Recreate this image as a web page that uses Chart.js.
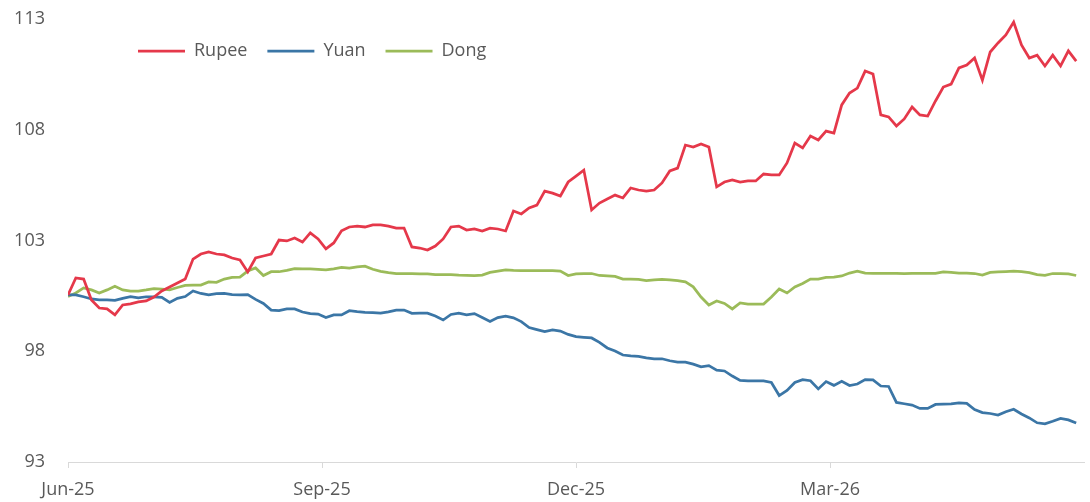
<!DOCTYPE html>
<html>
<head>
<meta charset="utf-8">
<script src="https://cdn.jsdelivr.net/npm/chart.js@4"></script>
<style>
    html, body { margin: 0; padding: 0; background: #ffffff; }
    .chart-box { width: 1090px; height: 502px; }
</style>
</head>
<body>
<div class="chart-box"><canvas id="myChart"></canvas></div>
<script>
// Currency indices, sampled every 2 trading days from the start of June 2025
const tradingDays = Array.from({ length: 130 }, (_, i) => i * 2);

const tickDays = [0, 65, 130, 195];
const tickLabels = ['Jun-25', 'Sep-25', 'Dec-25', 'Mar-26'];

const rupee = [100.54, 101.31, 101.26, 100.31, 99.95, 99.91, 99.64, 100.09, 100.14, 100.23,
    100.27, 100.45, 100.72, 100.90, 101.08, 101.26, 102.16, 102.39, 102.48, 102.39,
    102.35, 102.21, 102.12, 101.58, 102.21, 102.30, 102.39, 103.02, 102.98, 103.11,
    102.93, 103.34, 103.07, 102.62, 102.89, 103.44, 103.61, 103.65, 103.61, 103.70,
    103.70, 103.65, 103.56, 103.56, 102.71, 102.66, 102.57, 102.75, 103.07, 103.61,
    103.65, 103.47, 103.52, 103.43, 103.56, 103.52, 103.43, 104.33, 104.20, 104.47,
    104.60, 105.23, 105.14, 105.01, 105.64, 105.91, 106.18, 104.38, 104.69, 104.87,
    105.05, 104.92, 105.37, 105.28, 105.23, 105.28, 105.60, 106.14, 106.27, 107.31,
    107.22, 107.36, 107.22, 105.42, 105.64, 105.73, 105.64, 105.69, 105.69, 106.00,
    105.96, 105.96, 106.50, 107.40, 107.18, 107.72, 107.54, 107.94, 107.85, 109.12,
    109.66, 109.88, 110.65, 110.52, 108.67, 108.58, 108.17, 108.49, 109.03, 108.67,
    108.62, 109.30, 109.93, 110.06, 110.79, 110.92, 111.24, 110.24, 111.51, 111.92,
    112.28, 112.86, 111.83, 111.24, 111.37, 110.88, 111.37, 110.88, 111.56, 111.10];

const yuan = [100.54, 100.54, 100.46, 100.36, 100.32, 100.32, 100.30, 100.39, 100.46, 100.41,
    100.46, 100.46, 100.43, 100.20, 100.39, 100.47, 100.72, 100.61, 100.55, 100.60,
    100.61, 100.56, 100.55, 100.56, 100.34, 100.16, 99.86, 99.83, 99.91, 99.91,
    99.77, 99.70, 99.68, 99.52, 99.64, 99.64, 99.83, 99.79, 99.76, 99.74,
    99.72, 99.78, 99.86, 99.86, 99.71, 99.72, 99.72, 99.59, 99.41, 99.66,
    99.72, 99.64, 99.70, 99.52, 99.34, 99.52, 99.58, 99.51, 99.34, 99.07,
    98.98, 98.89, 98.96, 98.91, 98.76, 98.66, 98.63, 98.60, 98.40, 98.15,
    98.01, 97.83, 97.79, 97.77, 97.70, 97.66, 97.66, 97.57, 97.51, 97.51,
    97.42, 97.30, 97.35, 97.15, 97.11, 96.88, 96.68, 96.66, 96.66, 96.66,
    96.59, 96.00, 96.23, 96.59, 96.72, 96.67, 96.30, 96.63, 96.46, 96.64,
    96.45, 96.52, 96.72, 96.71, 96.43, 96.41, 95.69, 95.63, 95.57, 95.42,
    95.42, 95.60, 95.61, 95.62, 95.67, 95.65, 95.37, 95.23, 95.19, 95.12,
    95.27, 95.38, 95.17, 94.99, 94.77, 94.72, 94.84, 94.97, 94.90, 94.76];

const dong = [100.47, 100.63, 100.86, 100.77, 100.63, 100.77, 100.93, 100.77, 100.72, 100.72,
    100.77, 100.83, 100.81, 100.77, 100.88, 100.97, 100.99, 100.99, 101.13, 101.11,
    101.26, 101.33, 101.35, 101.62, 101.76, 101.42, 101.59, 101.59, 101.65, 101.73,
    101.72, 101.72, 101.70, 101.67, 101.72, 101.79, 101.75, 101.81, 101.84, 101.70,
    101.61, 101.55, 101.50, 101.51, 101.50, 101.49, 101.49, 101.46, 101.46, 101.46,
    101.44, 101.43, 101.41, 101.44, 101.56, 101.62, 101.67, 101.65, 101.64, 101.64,
    101.64, 101.64, 101.64, 101.62, 101.42, 101.49, 101.51, 101.51, 101.42, 101.40,
    101.38, 101.26, 101.26, 101.24, 101.19, 101.22, 101.24, 101.22, 101.19, 101.13,
    100.91, 100.45, 100.09, 100.27, 100.16, 99.91, 100.18, 100.13, 100.13, 100.13,
    100.45, 100.81, 100.63, 100.90, 101.06, 101.26, 101.26, 101.33, 101.35, 101.40,
    101.53, 101.62, 101.53, 101.52, 101.52, 101.52, 101.52, 101.51, 101.52, 101.52,
    101.52, 101.52, 101.58, 101.56, 101.53, 101.53, 101.51, 101.44, 101.56, 101.58,
    101.60, 101.62, 101.59, 101.55, 101.46, 101.43, 101.51, 101.51, 101.49, 101.42];

const textColor = '#595959';
const axisColor = '#d9d9d9';

function series(label, values, color) {
    return {
        label: label,
        data: values.map((v, i) => ({ x: tradingDays[i], y: v })),
        borderColor: color,
        backgroundColor: color,
        borderWidth: 2.75,
        pointRadius: 0,
        pointStyle: 'line',
        tension: 0,
    };
}

// legend lives inside the plot, laid out as one row in the top-left corner
const legendInPlot = {
    id: 'legendInPlot',
    afterInit(chart) {
        chart.legend.isHorizontal = () => true;
    },
    afterLayout(chart) {
        chart.legend.left = chart.chartArea.left + 50;
        chart.legend.top = chart.chartArea.top + 3;
    }
};

const ctx = document.getElementById('myChart');
const myChart = new Chart(ctx, {
    type: 'line',
    data: {
        datasets: [
            series('Rupee', rupee, '#e5384a'),
            series('Yuan', yuan, '#3b76a6'),
            series('Dong', dong, '#9bbb59'),
        ]
    },
    options: {
        responsive: true,
        maintainAspectRatio: false,
        animation: false,
        layout: {
            padding: { left: 0, right: 6, top: 19, bottom: 0 }
        },
        plugins: {
            legend: {
                position: 'chartArea',
                align: 'start',
                labels: {
                    usePointStyle: true,
                    pointStyleWidth: 47,
                    padding: 20,
                    color: textColor,
                    font: { family: 'Open Sans', size: 18 }
                }
            },
            tooltip: { enabled: false }
        },
        scales: {
            x: {
                type: 'linear',
                min: 0,
                max: 260,
                afterBuildTicks: axis => {
                    axis.ticks = tickDays.map(d => ({ value: d }));
                },
                afterFit: scale => { scale.height = 40; },
                ticks: {
                    autoSkip: false,
                    maxRotation: 0,
                    padding: 11,
                    color: textColor,
                    font: { family: 'Open Sans', size: 18 },
                    callback: (value, index) => tickLabels[index]
                },
                grid: {
                    drawOnChartArea: false,
                    drawTicks: true,
                    tickLength: 6,
                    color: axisColor
                },
                border: { display: true, color: axisColor, width: 1 }
            },
            y: {
                min: 93,
                max: 113,
                afterFit: scale => {
                    scale.width = 68;
                    scale.paddingTop = 0;
                    scale.paddingBottom = 0;
                },
                ticks: {
                    stepSize: 5,
                    padding: 23,
                    color: textColor,
                    font: { family: 'Open Sans', size: 18 }
                },
                grid: { display: false, drawTicks: false, tickLength: 0 },
                border: { display: false }
            }
        }
    },
    plugins: [legendInPlot]
});
</script>
</body>
</html>
